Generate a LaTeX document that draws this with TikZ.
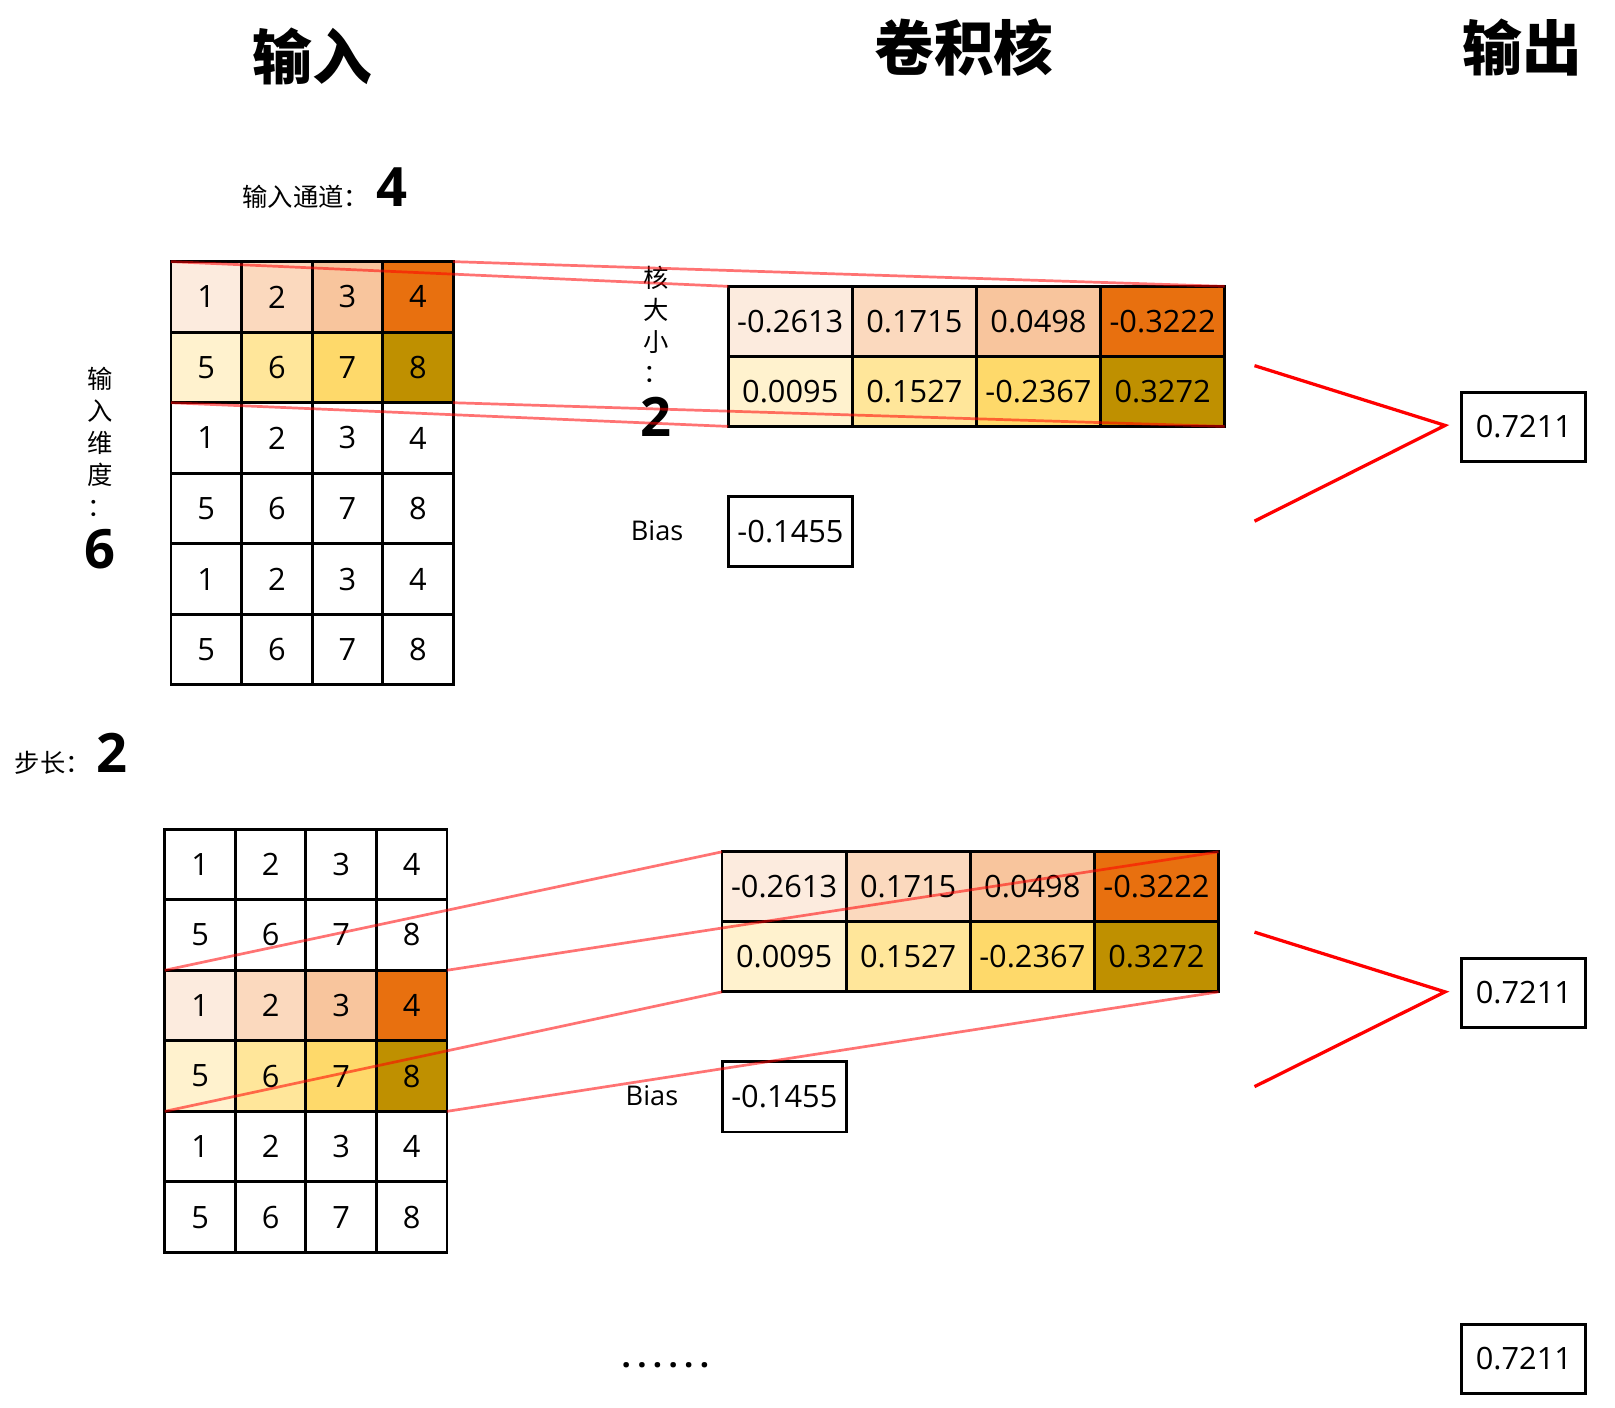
\documentclass[tikz,border=0pt]{standalone}
\usepackage{fontspec}
\setmainfont{Open Sans}
\newfontfamily\cjk{Noto Sans CJK SC}
\definecolor{k11}{HTML}{FCEBDE}
\definecolor{k12}{HTML}{FBD9BE}
\definecolor{k13}{HTML}{F8C59D}
\definecolor{k14}{HTML}{E8700F}
\definecolor{k21}{HTML}{FFF2CE}
\definecolor{k22}{HTML}{FFE69A}
\definecolor{k23}{HTML}{FED96A}
\definecolor{k24}{HTML}{BF9000}
\begin{document}
\begin{tikzpicture}[x=0.02cm,y=-0.02cm,
  cell/.style={draw=black,line width=1.6pt,minimum width=1.37cm,minimum height=1.37cm,
    inner sep=0pt,outer sep=0pt,font=\fontsize{17}{20}\selectfont},
  kcell/.style={draw=black,line width=1.6pt,minimum width=2.41cm,minimum height=1.36cm,
    inner sep=0pt,outer sep=0pt,font=\fontsize{17}{20}\selectfont},
  link/.style={draw=red,opacity=0.55,line width=1.5pt},
  outlink/.style={draw=red,line width=1.8pt},
  title/.style={font=\cjk\bfseries\fontsize{33}{36}\selectfont},
  small/.style={font=\cjk\fontsize{14}{17.6}\selectfont,align=center,inner sep=0pt},
  bignum/.style={font=\bfseries\fontsize{30}{32}\selectfont,inner sep=0pt},
  lab/.style={font=\fontsize{15}{17}\selectfont}]
\useasboundingbox (0,0) rectangle (1568,1367);

% titles
\node[title] (tin) at (303,55) {输入};
\node[title] (tker) at (936,46) {卷积核};
\node[title] (tout) at (1478,46) {输出};

% labels
\node[anchor=base west,inner sep=0pt] (chan) at (235,200)
  {{\cjk\fontsize{14}{16}\selectfont 输入通道：}\kern4pt{\bfseries\fontsize{30}{32}\selectfont 4}};
\node[small] (dimlab) at (97,429) {输\\入\\维\\度\\：};
\node[bignum] (dimval) at (97,533) {6};
\node[small] (kslab) at (637,315) {核\\大\\小\\：};
\node[bignum] (ksval) at (637,405) {2};
\node[anchor=base west,inner sep=0pt] (step) at (14,750)
  {{\cjk\fontsize{14}{16}\selectfont 步长：}\kern3pt{\bfseries\fontsize{30}{32}\selectfont 2}};

% input grids
\foreach \g/\gx/\gy/\hr in {1/166/254/0, 2/160/805/2}{
  \foreach \r in {1,...,6}{
    \foreach \c in {1,...,4}{
      \pgfmathtruncatemacro{\v}{isodd(\r) ? \c : \c+4}
      \pgfmathtruncatemacro{\rr}{\r-\hr}
      \ifnum\rr>0 \ifnum\rr<3 \def\fc{k\rr\c}\else\def\fc{white}\fi\else\def\fc{white}\fi
      \node[cell,fill=\fc] (g\g-\r-\c) at ({\gx+68.5*(\c-0.5)},{\gy+68.5*(\r-0.5)}) {\v};
    }
  }
}

% kernels
\foreach \k/\kx/\ky in {1/707/278, 2/701/827}{
  \foreach \v [count=\c] in {-0.2613,0.1715,0.0498,-0.3222}{
    \node[kcell,fill=k1\c] (k\k-1-\c) at ({\kx+120.5*(\c-0.5)},{\ky+34}) {\v};
  }
  \foreach \v [count=\c] in {0.0095,0.1527,-0.2367,0.3272}{
    \node[kcell,fill=k2\c] (k\k-2-\c) at ({\kx+120.5*(\c-0.5)},{\ky+102}) {\v};
  }
}

% bias
\node[lab] (bl1) at (638,515) {Bias};
\node[kcell] (b1) at (767.5,516) {-0.1455};
\node[lab] (bl2) at (633,1064) {Bias};
\node[kcell] (b2) at (761.5,1065) {-0.1455};

% outputs
\node[kcell,minimum height=1.34cm] (o1) at (1479.5,414.5) {0.7211};
\node[kcell,minimum height=1.34cm] (o2) at (1479.5,964) {0.7211};
\node[kcell,minimum height=1.34cm] (o3) at (1479.5,1319) {0.7211};

\node[font=\bfseries\fontsize{18}{20}\selectfont,inner sep=0pt] (dots) at (646,1325)
  {.\kern3.5pt.\kern3.5pt.\kern3.5pt.\kern3.5pt.\kern3.5pt.};

% links
\draw[link] (g1-1-1.north west) -- (k1-1-1.north west);
\draw[link] (g1-1-4.north east) -- (k1-1-4.north east);
\draw[link] (g1-2-1.south west) -- (k1-2-1.south west);
\draw[link] (g1-2-4.south east) -- (k1-2-4.south east);
\draw[link] (g2-3-1.north west) -- (k2-1-1.north west);
\draw[link] (g2-3-4.north east) -- (k2-1-4.north east);
\draw[link] (g2-4-1.south west) -- (k2-2-1.south west);
\draw[link] (g2-4-4.south east) -- (k2-2-4.south east);

% output connectors
\coordinate (a1) at (1218,355);
\coordinate (t1) at (1403,413);
\coordinate (c1) at (1218,506);
\draw[outlink] (a1) -- (t1) -- (c1);
\coordinate (a2) at (1218,905);
\coordinate (t2) at (1403,963);
\coordinate (c2) at (1218,1055);
\draw[outlink] (a2) -- (t2) -- (c2);
\end{tikzpicture}
\end{document}
